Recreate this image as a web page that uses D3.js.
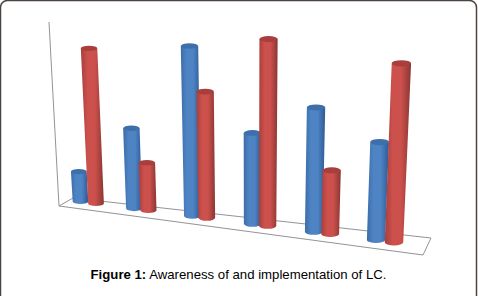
<!DOCTYPE html>
<html>
<head>
<meta charset="utf-8">
<script src="https://cdn.jsdelivr.net/npm/d3@7"></script>
<style>
    html, body { margin: 0; padding: 0; background: #fff; }
    svg { display: block; }
</style>
</head>
<body>
<script>
// dimensions
const width = 478;
const height = 296;

// data (no axis labels, so units are percent-like)
const categories = ["1", "2", "3", "4", "5", "6"];
const awareness = [17.5, 41.5, 82.5, 44, 57.5, 44.5];
const implementation = [79.5, 25.5, 61.5, 87, 30.5, 78.5];

const seriesList = [
    { name: "awareness", values: awareness, left: "#3a6ca8", edge: "#2c5a94", mid: "#4f84c4", cap: "#3d6fab" },
    { name: "implementation", values: implementation, left: "#a83f3c", edge: "#8a3633", mid: "#cc504c", cap: "#a83f3c" }
];

let svg = d3.select("body")
    .append("svg")
    .attr("width", width)
    .attr("height", height);

// gradients for the round sides
let defs = svg.append("defs");
seriesList.forEach(function(s) {
    let grad = defs.append("linearGradient")
        .attr("id", "side-" + s.name);
    grad.append("stop").attr("offset", "0%").attr("stop-color", s.left);
    grad.append("stop").attr("offset", "30%").attr("stop-color", s.mid);
    grad.append("stop").attr("offset", "62%").attr("stop-color", s.mid);
    grad.append("stop").attr("offset", "100%").attr("stop-color", s.edge);
});

// the frame round the figure
svg.append("rect")
    .attr("x", 0.5)
    .attr("y", 0.5)
    .attr("width", width - 2)
    .attr("height", height + 20)
    .attr("rx", 7)
    .attr("fill", "none")
    .attr("stroke", "#4b4441")
    .attr("stroke-width", 1.5);

// floor and wall edge of the 3d plot
const floorLines = [
    [[49, 22], [59, 206]],
    [[59, 206], [423, 255]],
    [[423, 255], [431, 238]],
    [[431, 238], [73, 198]],
    [[73, 198], [59, 206]]
];
svg.selectAll(".floor")
    .data(floorLines)
    .enter()
    .append("path")
    .attr("class", "floor")
    .attr("d", d3.line())
    .attr("fill", "none")
    .attr("stroke", "#949494")
    .attr("stroke-width", 1);

// the chart is drawn in perspective: slots spread out to the right,
// and bars get bigger on the way
const slot = d3.scalePoint()
    .domain(categories)
    .range([0, 5]);
const xBase = {
    awareness: d3.scalePow().exponent(1.06).domain([0, 5]).range([80.5, 376]),
    implementation: d3.scalePow().exponent(1.08).domain([0, 5]).range([96, 394])
};
const yBase = d3.scaleLinear().domain([80, 394]).range([204, 245.4]);
const valueHeight = d3.scaleLinear().domain([0, 100]).range([0, 200]);
const depthScale = d3.scaleLinear().domain([80, 394]).range([1, 1.18]);
const radiusScale = d3.scaleLinear().domain([80, 394]).range([7.8, 9.2]);
// verticals lean away from this x
const vanishX = 251;
const lean = 0.00028;

function cylinder(value, seriesName, category) {
    let xb = xBase[seriesName](slot(category));
    let yb = yBase(xb);
    let h = valueHeight(value) * depthScale(xb);
    let r = radiusScale(xb);
    let rTop = r * (1 + h * lean);
    let ry = r * 0.34;
    let xt = xb + (xb - vanishX) * lean * h;
    return { xb: xb, yb: yb - ry, xt: xt, yt: yb - h + ry, r: r, rTop: rTop, ry: ry };
}

function sidePath(c) {
    return "M" + (c.xt - c.rTop) + "," + c.yt +
        "L" + (c.xb - c.r) + "," + c.yb +
        "A" + c.r + "," + c.ry + " 0 0 0 " + (c.xb + c.r) + "," + c.yb +
        "L" + (c.xt + c.rTop) + "," + c.yt + "Z";
}

// blue then red in each group, so the red one sits in front
categories.forEach(function(cat, i) {
    seriesList.forEach(function(s) {
        let c = cylinder(s.values[i], s.name, cat);
        let bar = svg.append("g").attr("class", "bar");
        bar.append("path")
            .attr("d", sidePath(c))
            .attr("fill", "url(#side-" + s.name + ")");
        bar.append("ellipse")
            .attr("cx", c.xt)
            .attr("cy", c.yt)
            .attr("rx", c.rTop)
            .attr("ry", c.ry)
            .attr("fill", s.cap);
    });
});

// caption
let caption = svg.append("text")
    .attr("x", 238.5)
    .attr("y", 279)
    .attr("text-anchor", "middle")
    .style("font-family", "'Liberation Sans', Arial, sans-serif")
    .style("font-size", "13.2px")
    .style("fill", "#000");
caption.append("tspan").style("font-weight", "bold").text("Figure 1:");
caption.append("tspan").text(" Awareness of and implementation of LC.");
</script>
</body>
</html>
